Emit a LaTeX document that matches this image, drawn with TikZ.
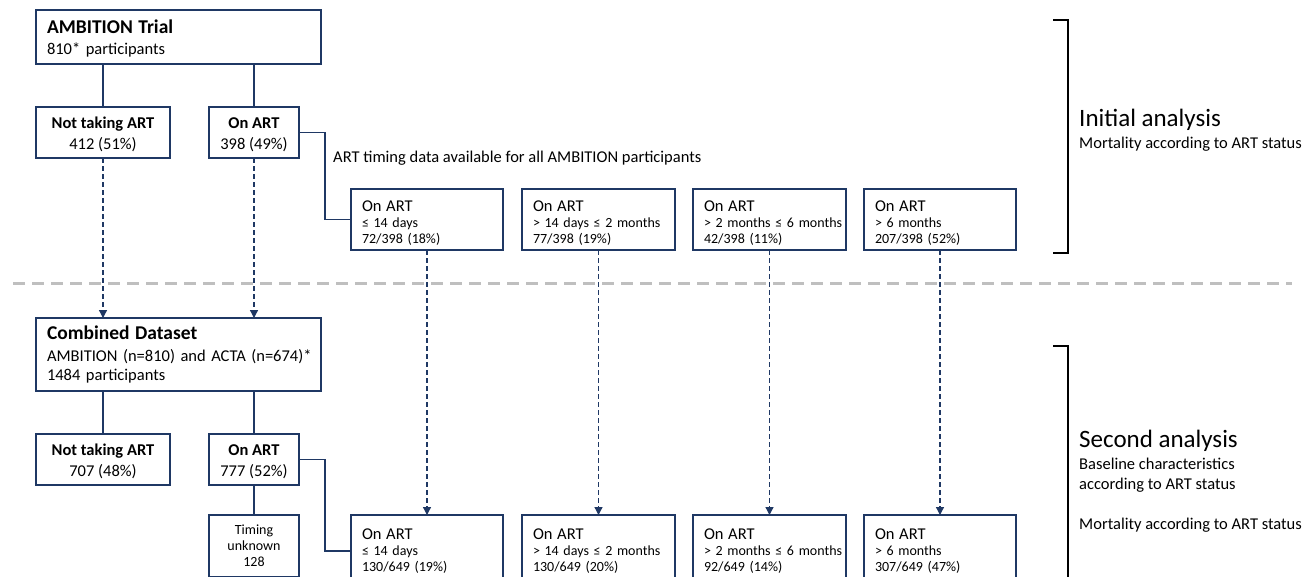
\documentclass[tikz,border=0pt]{standalone}
\usepackage{fontspec}
\setmainfont{Carlito}
\usetikzlibrary{arrows.meta}
\definecolor{navy}{HTML}{1F3864}
\definecolor{sepgray}{HTML}{BFBFBF}
\newcommand{\fA}{\fontsize{19.5}{21}\selectfont}
\newcommand{\fB}{\fontsize{16.5}{21}\selectfont}
\newcommand{\fC}{\fontsize{14}{16}\selectfont}
\newcommand{\lift}[1]{\rule{0pt}{#1}}
\begin{document}
\begin{tikzpicture}[x=1pt,y=-1pt,
  box/.style={draw=navy, line width=1.4pt, anchor=north west, inner sep=0pt, outer sep=0pt, text=black},
  lbox/.style={box, align=left, inner xsep=11pt},
  cbox/.style={box, align=center},
  bigbox/.style={font=\fB},
  smallbox/.style={font=\fC},
  link/.style={draw=navy, line width=1.3pt},
  dlink/.style={draw=navy, line width=1.3pt, dash pattern=on 5pt off 3pt, -{Triangle[length=8pt,width=8pt]}},
  brk/.style={draw=black, line width=1.3pt},
  side/.style={anchor=base west, inner sep=0pt, align=left}
]
\useasboundingbox (0,0) rectangle (1307,576);
\clip (0,0) rectangle (1307,576);

% separator
\draw[sepgray, line width=3pt, dash pattern=on 12pt off 7pt] (13,283) -- (1292,283);

% ---- top part
\node[lbox, bigbox, minimum width=285pt, minimum height=54pt, text width=263pt] (amb) at (36,10)
  {{\fA\bfseries\lift{17.5pt}AMBITION Trial}\\810* participants};
\node[cbox, bigbox, minimum width=134pt, minimum height=51pt] (nt1) at (36,107)
  {\lift{16pt}\textbf{Not taking ART}\\412 (51\%)};
\node[cbox, bigbox, minimum width=90pt, minimum height=51pt] (on1) at (209,107)
  {\lift{16pt}\textbf{On ART}\\398 (49\%)};

\node[anchor=base west, inner sep=0pt, font=\fB] (avail) at (333,162) {ART timing data available for all AMBITION participants};

\node[lbox, smallbox, minimum width=152pt, minimum height=61pt, text width=130pt] (r1) at (351,189)
  {{\fB\lift{18pt}On ART}\\≤ 14 days\\72/398 (18\%)};
\node[lbox, smallbox, minimum width=153pt, minimum height=61pt, text width=131pt] (r2) at (522,189)
  {{\fB\lift{18pt}On ART}\\\mbox{> 14 days ≤ 2 months}\\77/398 (19\%)};
\node[lbox, smallbox, minimum width=153pt, minimum height=61pt, text width=131pt] (r3) at (693,189)
  {{\fB\lift{18pt}On ART}\\\mbox{> 2 months ≤ 6 months}\\42/398 (11\%)};
\node[lbox, smallbox, minimum width=152pt, minimum height=61pt, text width=130pt] (r4) at (864,189)
  {{\fB\lift{18pt}On ART}\\> 6 months\\207/398 (52\%)};

\draw[link] (amb.south -| nt1.north) -- (nt1.north);
\draw[link] (amb.south -| on1.north) -- (on1.north);
\draw[link] (on1.east) -- ++(26,0) |- (r1.west);

% ---- bottom part
\node[lbox, bigbox, minimum width=285pt, minimum height=73pt, text width=263pt] (comb) at (36,318)
  {{\fA\bfseries Combined Dataset}\\[1pt]\mbox{AMBITION (n=810) and ACTA (n=674)*}\\[-2pt]1484 participants};
\node[cbox, bigbox, minimum width=134pt, minimum height=51pt] (nt2) at (36,434)
  {\lift{16pt}\textbf{Not taking ART}\\707 (48\%)};
\node[cbox, bigbox, minimum width=90pt, minimum height=51pt] (on2) at (209,434)
  {\lift{16pt}\textbf{On ART}\\777 (52\%)};
\node[cbox, smallbox, minimum width=90pt, minimum height=62pt, line width=1.1pt] (tu) at (209,515)
  {Timing\\unknown\\128};

\node[lbox, smallbox, minimum width=152pt, minimum height=72pt, text width=130pt] (b1) at (351,515)
  {{\fB On ART}\\≤ 14 days\\130/649 (19\%)};
\node[lbox, smallbox, minimum width=153pt, minimum height=72pt, text width=131pt] (b2) at (522,515)
  {{\fB On ART}\\\mbox{> 14 days ≤ 2 months}\\130/649 (20\%)};
\node[lbox, smallbox, minimum width=153pt, minimum height=72pt, text width=131pt] (b3) at (693,515)
  {{\fB On ART}\\\mbox{> 2 months ≤ 6 months}\\92/649 (14\%)};
\node[lbox, smallbox, minimum width=152pt, minimum height=72pt, text width=130pt] (b4) at (864,515)
  {{\fB On ART}\\> 6 months\\307/649 (47\%)};

\draw[link] (comb.south -| nt2.north) -- (nt2.north);
\draw[link] (comb.south -| on2.north) -- (on2.north);
\draw[link] (on2.south) -- (tu.north);
\draw[link] (on2.east) -- ++(26,0) |- (b1.west);

% dashed arrows
\draw[dlink] (nt1.south) -- (nt1.south |- comb.north);
\draw[dlink] (on1.south) -- (on1.south |- comb.north);
\draw[dlink] (r1.south) -- (b1.north);
\draw[dlink] (r2.south) -- (b2.north);
\draw[dlink] (r3.south) -- (b3.north);
\draw[dlink] (r4.south) -- (b4.north);

% brackets
\draw[brk] (1053,20) -- (1068,20) -- (1068,253) -- (1053,253);
\draw[brk] (1053,346) -- (1068,346) -- (1068,600);

\node[side] (ia) at (1079,126) {\fontsize{25}{30}\selectfont Initial analysis};
\node[side, font=\fB] (iam) at (1079,148) {Mortality according to ART status};
\node[side] (sa) at (1079,447) {\fontsize{25}{30}\selectfont Second analysis};
\node[side, font=\fB] (sab) at (1079,469) {Baseline characteristics};
\node[side, font=\fB] (sac) at (1079,489) {according to ART status};
\node[side, font=\fB] (sam) at (1079,529) {Mortality according to ART status};
\end{tikzpicture}
\end{document}
